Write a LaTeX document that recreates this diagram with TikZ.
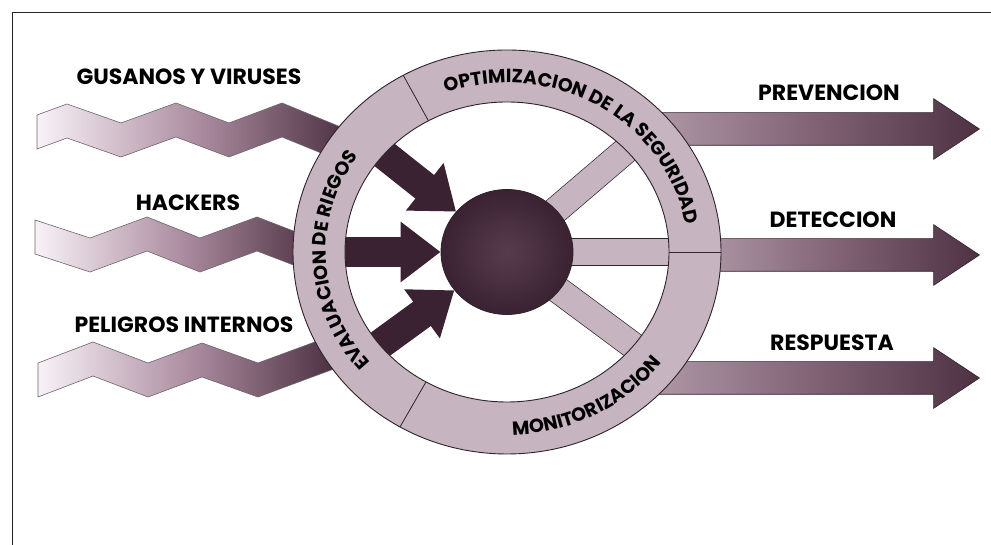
\documentclass[tikz,border=0pt]{standalone}
\usepackage{fontspec}
\usetikzlibrary{shapes.geometric, shapes.arrows, arrows.meta, calc, backgrounds, decorations.text}
\newfontfamily\gothic{Poppins}
\newcommand\ringfont{\gothic\bfseries\fontsize{19}{19}\selectfont}
\definecolor{ringc}{RGB}{198,180,192}
\definecolor{darkc}{RGB}{58,34,50}
\definecolor{spherein}{RGB}{88,60,78}
\definecolor{bandlight}{RGB}{248,242,247}
\definecolor{bandmid}{RGB}{170,138,158}
\definecolor{banddark}{RGB}{66,38,56}
\definecolor{outlight}{RGB}{178,156,170}
\definecolor{outmid}{RGB}{130,100,118}
\definecolor{outdark}{RGB}{78,50,68}
\definecolor{linec}{RGB}{45,36,42}
\tikzset{
    lbl/.style={font=\gothic\bfseries\fontsize{22}{22}\selectfont, inner sep=0pt},
    band/.style={draw=linec!70, line width=0.6pt, left color=bandlight, right color=banddark, middle color=bandmid},
    outarrow/.style={single arrow, anchor=tip, draw=linec, line width=0.6pt, inner xsep=0pt, inner ysep=16pt, minimum width=60pt, single arrow head extend=14pt, single arrow tip angle=67, single arrow head indent=0pt, left color=outlight, right color=outdark, middle color=outmid},
    inarrow/.style={-{Triangle[length=40pt, width=58pt]}, line width=30pt, darkc},
    spoke/.style={draw=linec, line width=0.7pt, double=ringc, double distance=26pt},
    divider/.style={draw=linec, line width=0.8pt},
    ringtext/.style={decorate, decoration={text along path, text={|\ringfont|#1}, text align=center}}
}

\begin{document}
\begin{tikzpicture}[x=1pt, y=1pt]
        \useasboundingbox (0,0) rectangle (991,545);
        \draw [linec, line width=1pt] (12,0) -- (12,532) -- (991,532);
        \coordinate (hub) at (507,293);
        \node [ellipse, draw=linec, line width=0.8pt, minimum width=132pt, minimum height=125pt, inner color=spherein, outer color=darkc] (ball) at (hub) {};
        \coordinate (rimA) at ($(hub)+(42:200 and 190)$);
        \coordinate (rimB) at ($(hub)+(0:200 and 190)$);
        \coordinate (rimC) at ($(hub)+(-38:200 and 190)$);
        \coordinate (tailA) at (372,400);
        \coordinate (tailB) at (338,293);
        \coordinate (tailC) at (360,186);
        \begin{scope}[on background layer]
            \draw [spoke] (hub) -- (rimA);
            \draw [spoke] (hub) -- (rimB);
            \draw [spoke] (hub) -- (rimC);
            \draw [band] (37,430) -- (67,441) -- (121,422) -- (176,442) -- (229,422) -- (282,442) -- (365,408)
                -- (365,374) -- (282,408) -- (229,388) -- (176,408) -- (121,388) -- (67,407) -- (37,396) -- cycle;
            \draw [band] (35,325) -- (90,307) -- (147,328) -- (200,307) -- (257,328) -- (335,298)
                -- (335,264) -- (257,294) -- (200,273) -- (147,294) -- (90,273) -- (35,291) -- cycle;
            \draw [band] (38,182) -- (93,203) -- (148,182) -- (202,202) -- (258,182) -- (350,216)
                -- (350,182) -- (258,148) -- (202,168) -- (148,148) -- (93,169) -- (38,148) -- cycle;
            \node [outarrow, minimum height=340pt] (prev) at (980,416) {};
            \node [outarrow, minimum height=290pt] (detec) at (980,290) {};
            \node [outarrow, minimum height=340pt] (resp) at (980,167) {};
            \draw [inarrow] (tailA) -- (ball);
            \draw [inarrow] (tailB) -- (ball);
            \draw [inarrow] (tailC) -- (ball);
        \end{scope}
        \fill [ringc, even odd rule] (hub) ellipse [x radius=214, y radius=202] (hub) ellipse [x radius=162, y radius=150];
        \draw [linec, line width=0.9pt] (hub) ellipse [x radius=214, y radius=202] (hub) ellipse [x radius=162, y radius=150];
        \foreach \a in {0,119,240}
            \draw [divider] ($(hub)+(\a:162 and 150)$) -- ($(hub)+(\a:214 and 202)$);
        \path [ringtext={OPTIMIZACION DE LA SEGURIDAD}] (hub) ++(129:181 and 169) arc [start angle=129, end angle=-11, x radius=181, y radius=169];
        \path [ringtext={EVALUACION DE RIEGOS}] (hub) ++(253:181 and 169) arc [start angle=253, end angle=113, x radius=181, y radius=169];
        \path [ringtext={MONITORIZACION}] (hub) ++(238:195 and 183) arc [start angle=238, end angle=358, x radius=195, y radius=183];
        \node [lbl] (gus) at (189,468) {GUSANOS Y VIRUSES};
        \node [lbl] (hack) at (188,342) {HACKERS};
        \node [lbl] (peli) at (184,220) {PELIGROS INTERNOS};
        \node [lbl] (lprev) at (829,452) {PREVENCION};
        \node [lbl] (ldetec) at (833,325) {DETECCION};
        \node [lbl] (lresp) at (832,202) {RESPUESTA};
    \end{tikzpicture}
\end{document}
